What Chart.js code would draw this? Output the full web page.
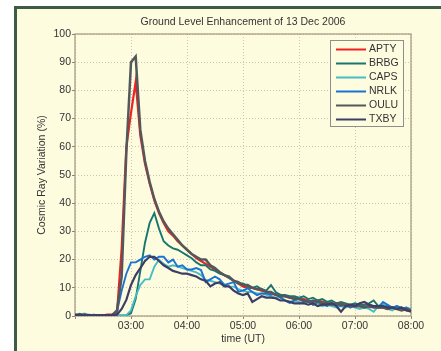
<!DOCTYPE html>
<html>
<head>
<meta charset="utf-8">
<title>Ground Level Enhancement of 13 Dec 2006</title>
<script src="https://cdn.jsdelivr.net/npm/chart.js@4.4.0/dist/chart.umd.min.js"></script>
<style>
  body { margin: 0; background: #fff; }
  #wrap { position: relative; width: 441px; height: 351px; overflow: hidden; }
  #frame { position: absolute; left: 14px; top: 6px; width: 440px; height: 360px;
           background: #fdfcdf; border-left: 3px solid #3e5b46; border-top: 3px solid #3e5b46; }
  canvas { position: absolute; left: 0; top: 0; }
</style>
</head>
<body>
<div id="wrap">
  <div id="frame"></div>
  <canvas id="gle" width="441" height="351"></canvas>
</div>
<script>
// 5-minute samples, 02:00 .. 08:00 UT
const times = [
  '02:00','02:05','02:10','02:15','02:20','02:25','02:30','02:35','02:40','02:45','02:50','02:55',
  '03:00','03:05','03:10','03:15','03:20','03:25','03:30','03:35','03:40','03:45','03:50','03:55',
  '04:00','04:05','04:10','04:15','04:20','04:25','04:30','04:35','04:40','04:45','04:50','04:55',
  '05:00','05:05','05:10','05:15','05:20','05:25','05:30','05:35','05:40','05:45','05:50','05:55',
  '06:00','06:05','06:10','06:15','06:20','06:25','06:30','06:35','06:40','06:45','06:50','06:55',
  '07:00','07:05','07:10','07:15','07:20','07:25','07:30','07:35','07:40','07:45','07:50','07:55',
  '08:00'
];

const stations = ['APTY', 'BRBG', 'CAPS', 'NRLK', 'OULU', 'TXBY'];

const apty = [
  0.5, 0.3, 0.2, 0.4, 0.2, 0.3, 0.2, 0.5, 0.6, 1, 24, 60,
  72, 83, 64, 54, 47, 41, 36.5, 33, 30, 28.5, 26.5, 25,
  23.5, 22, 20.5, 19.5, 18.5, 17.5, 16.5, 15.5, 14.5, 13.5, 12.5, 11.5,
  10.5, 10, 10, 9.5, 9, 8.5, 8, 7.5, 7.5, 7, 6.5, 6.5,
  6, 6, 5.5, 5, 5.5, 5, 4.5, 4.5, 4, 4.5, 4, 3.5,
  4, 3.5, 3.5, 3, 3.5, 3, 3, 2.5, 3, 2.5, 2.5, 2,
  2
];
const brbg = [
  0.3, 0.8, 0.4, 0.2, 0.3, 0.2, 0.1, 0.2, 0.3, 0.2, 0.2, 0.3,
  1, 6, 16, 26, 33, 36.5, 31, 26.5, 25, 24, 23.5, 22.5,
  21.5, 20.5, 19, 18, 18, 16.5, 16, 15, 14.5, 13.5, 12.5, 11.5,
  11.5, 10.5, 10, 10.5, 9.5, 9, 11, 8.5, 7.5, 7.5, 7, 7,
  6.5, 7, 6, 6.5, 5.5, 6, 5, 5.5, 4.5, 5, 4.5, 4,
  4.5, 4, 4, 4.5, 5.5, 3.5, 4, 3.5, 3, 3.5, 3, 2.5,
  2.5
];
const caps = [
  0.6, 0.2, 0.9, 0.3, 0.2, 0.1, 0.2, 0.1, 0.2, 0.1, 0.2, 0.3,
  2, 7, 11, 13, 13, 17.5, 20, 18.5, 17.5, 18, 17.5, 17,
  16.5, 16, 15.5, 14.5, 12.8, 12.5, 12, 11.5, 11, 10.5, 10.4, 9.5,
  9, 8.5, 8.5, 8, 8, 7.5, 7, 6.5, 7, 5.5, 5, 5.5,
  5, 4.5, 5, 4, 4.5, 3.5, 4, 3.5, 3, 3.5, 3, 3.5,
  3, 2.5, 3, 2.5, 1.5, 3.5, 4.5, 2.5, 2, 3, 2.5, 3,
  2.5
];
const nrlk = [
  0.3, 0.4, 0.2, 0.3, 0.5, 0.3, 0.2, 0.4, 0.5, 1.5, 9, 15,
  19, 19, 20, 21, 21.5, 20, 21, 21, 19, 20, 17.5, 18,
  16.5, 16.5, 17, 16.3, 12, 13, 14, 13, 11, 11.5, 12, 8.6,
  9, 9.8, 8.5, 7.4, 8, 8, 7.5, 8, 6.5, 5.5, 4.6, 5.5,
  6.3, 5, 5.5, 4, 5, 4.5, 3.5, 4.5, 4, 3.5, 4, 3,
  4, 3.5, 3, 4, 3.5, 3, 5, 4, 3, 3.5, 2.5, 3,
  2
];
const oulu = [
  0.4, 0.3, 0.5, 0.2, 0.3, 0.2, 0.3, 0.2, 0.4, 2, 14, 58,
  90, 92, 66, 55, 47.5, 41.5, 37, 33.5, 31, 29, 27, 25,
  23.5, 22, 21, 20, 20, 18, 17, 15.5, 14.5, 14, 12.5, 12,
  11, 11, 10, 9.5, 9.5, 8.5, 8.5, 7.5, 7, 7, 6.5, 6,
  6, 5.5, 5, 5.5, 5, 4.5, 4.5, 4, 4.5, 4, 4, 3.5,
  3.5, 3.5, 3, 3.5, 3, 3, 3, 2.5, 3, 2.5, 2, 2.5,
  2
];
const txby = [
  0.2, 0.3, 0.2, 0.3, 0.2, 0.3, 0.2, 0.3, 0.3, 0.5, 2.5, 5.7,
  11, 14.5, 17, 19.5, 21, 21, 19.5, 18, 17, 16, 15.5, 15,
  15, 14.5, 14, 13, 12.5, 10.5, 11.5, 12, 10.5, 10.5, 9, 8,
  7.4, 8, 5, 6, 7, 6.5, 6.5, 6.3, 5.5, 5.5, 5, 4.5,
  4.5, 4.5, 4, 4.5, 3.5, 4, 4, 4.5, 3.5, 1.5, 3.5, 4,
  3.5, 4.5, 5, 4, 3.5, 3.5, 3.5, 3, 3, 2.5, 3, 2,
  1.5
];

const colors = ['#ee2222', '#17766e', '#48bcc4', '#1a72d6', '#55585b', '#3d3d66'];
const widths = [2.2, 1.9, 1.9, 1.9, 2.5, 2.2];
const series = [apty, brbg, caps, nrlk, oulu, txby];

const toMin = t => {
  const p = t.split(':');
  return +p[0] * 60 + +p[1];
};
const fmtMin = m => {
  const h = Math.floor(m / 60), mm = m % 60;
  return String(h).padStart(2, '0') + ':' + String(mm).padStart(2, '0');
};

const datasets = stations.map((name, i) => ({
  label: name,
  data: series[i].map((v, k) => ({ x: toMin(times[k]), y: v })),
  borderColor: colors[i],
  borderWidth: widths[i],
  pointRadius: 0,
  tension: 0,
  order: stations.length - i
}));

const font = { family: '"Liberation Sans", Arial, sans-serif', size: 10.5 };

// matlab-ish extras: title, box round the axes and the legend inside the plot
const extras = {
  id: 'extras',
  beforeDatasetsDraw(chart) {
    const { ctx, chartArea: a } = chart;
    ctx.save();
    ctx.strokeStyle = '#a2957f';
    ctx.lineWidth = 1.2;
    ctx.strokeRect(a.left, a.top, a.right - a.left, a.bottom - a.top);
    ctx.restore();
  },
  afterDatasetsDraw(chart) {
    const { ctx, chartArea: a } = chart;
    ctx.save();
    ctx.font = '10.5px "Liberation Sans", Arial, sans-serif';
    ctx.fillStyle = '#333';
    ctx.textAlign = 'center';
    ctx.textBaseline = 'middle';
    ctx.fillText('Ground Level Enhancement of 13 Dec 2006', (a.left + a.right) / 2, 22.5);

    // legend
    const bx = 330.5, by = 40.5, bw = 73, bh = 86;
    ctx.fillStyle = '#fdfcdf';
    ctx.fillRect(bx, by, bw, bh);
    ctx.strokeStyle = '#8e8e8e';
    ctx.lineWidth = 1;
    ctx.strokeRect(bx, by, bw, bh);
    ctx.textAlign = 'left';
    chart.data.datasets.forEach((ds, i) => {
      const y = 49.5 + i * 14;
      ctx.strokeStyle = ds.borderColor;
      ctx.lineWidth = 2;
      ctx.beginPath();
      ctx.moveTo(336, y);
      ctx.lineTo(366, y);
      ctx.stroke();
      ctx.fillStyle = '#333';
      ctx.fillText(ds.label, 369, y);
    });
    ctx.restore();
  }
};

const gridOpts = { color: '#cdc6b2', tickLength: 3, tickColor: '#8f8475', tickBorderDash: [] };

new Chart(document.getElementById('gle'), {
  type: 'line',
  data: { datasets },
  plugins: [extras],
  options: {
    responsive: false,
    animation: false,
    layout: { padding: { top: 34, right: 30, left: 0, bottom: 0 } },
    plugins: { legend: { display: false }, tooltip: { enabled: false } },
    scales: {
      x: {
        type: 'linear',
        min: 120,
        max: 480,
        afterFit: s => { s.height = 35; },
        ticks: {
          stepSize: 60,
          color: '#333',
          font,
          padding: 1,
          maxRotation: 0,
          callback: v => (v === 120 ? '' : fmtMin(v))
        },
        grid: gridOpts,
        border: { display: false, dash: [1, 2] },
        title: { display: true, text: 'time (UT)', color: '#333', font, padding: { top: 0, bottom: 6 } }
      },
      y: {
        min: 0,
        max: 100,
        afterFit: s => { s.width = 75; },
        ticks: { stepSize: 10, color: '#333', font, padding: 1 },
        grid: gridOpts,
        border: { display: false, dash: [1, 2] },
        title: { display: true, text: 'Cosmic Ray Variation (%)', color: '#333', font, padding: { top: 36, bottom: 0 } }
      }
    }
  }
});
</script>
</body>
</html>
